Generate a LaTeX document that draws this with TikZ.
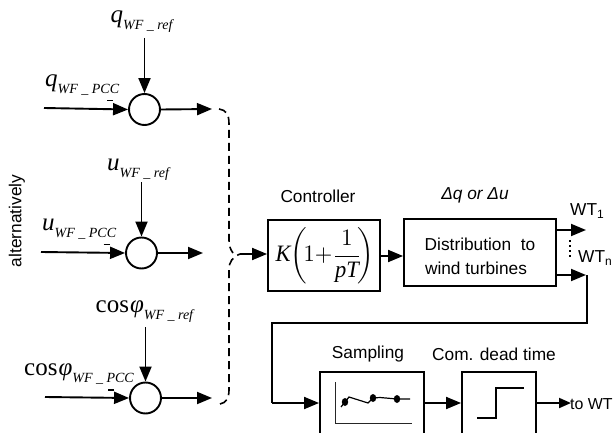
\documentclass[tikz,border=0pt]{standalone}
\usepackage{fontspec}
\setmainfont{Liberation Sans}
\newfontfamily\tnr{Liberation Serif}
\usetikzlibrary{arrows.meta}
\newcommand{\lbl}[2]{{\tnr\fontsize{25}{25}\selectfont #1}\raisebox{-7pt}{\tnr\itshape\fontsize{14}{14}\selectfont #2}}
\tikzset{
  x=1pt,y=-1pt,
  line/.style={line width=1.9pt,black},
  arr/.style={line,-{Triangle[length=15pt,width=12pt]}},
  sum/.style={circle,draw,line width=1.9pt,minimum size=31pt,inner sep=0pt},
  blockbox/.style={rectangle,draw,line width=1.9pt,inner sep=0pt},
  dashline/.style={line width=1.6pt,dash pattern=on 8pt off 5pt},
  lab/.style={font=\fontsize{17.3}{20}\selectfont,inner sep=0pt,align=center},
  sym/.style={inner sep=0pt,anchor=base west},
  minus/.style={line width=1.9pt},
  thin1/.style={line width=1pt,black!85}
}
\begin{document}
\begin{tikzpicture}
\useasboundingbox (0,0) rectangle (613,433);
\clip (0,0) rectangle (613,433);
% summing nodes
\node[sum] (s1) at (144.5,109.5) {};
\node[sum] (s2) at (141.5,253) {};
\node[sum] (s3) at (145.5,398) {};
% blocks
\node[blockbox,minimum width=112pt,minimum height=71pt] (ctrl) at (324,255.5) {};
\node[blockbox,minimum width=152pt,minimum height=67pt] (dist) at (480,252.5) {};
\node[blockbox,minimum width=104pt,minimum height=100pt] (samp) at (372,422) {};
\node[blockbox,minimum width=74pt,minimum height=100pt] (com) at (499,422) {};
% symbols
\node[sym] (tq1) at (110.5,23) {\lbl{\textit{q}}{WF \_ ref}};
\node[sym] (tq2) at (45,87) {\lbl{\textit{q}}{WF \_ PCC}};
\node[sym] (tu1) at (107,170) {\lbl{\textit{u}}{WF \_ ref}};
\node[sym] (tu2) at (42,230) {\lbl{\textit{u}}{WF \_ PCC}};
\node[sym] (tc1) at (95.5,312) {\lbl{cos\kern1pt\textit{φ}}{WF \_ ref}};
\node[sym] (tc2) at (24,375) {\lbl{cos\kern1pt\textit{φ}}{WF \_ PCC}};
% free ends
\coordinate (q1a) at (144.5,38);
\coordinate (q2a) at (44,108);
\coordinate (q3a) at (212,109);
\coordinate (u1a) at (141.5,182);
\coordinate (u2a) at (41,252);
\coordinate (u3a) at (203,253);
\coordinate (c1a) at (145.5,327);
\coordinate (c2a) at (45,397);
\coordinate (c3a) at (212,398);
\draw[arr] (q1a) -- (s1.north);
\draw[arr] (q2a) -- (s1.west);
\draw[arr] (s1.east) -- (q3a);
\draw[arr] (u1a) -- (s2.north);
\draw[arr] (u2a) -- (s2.west);
\draw[arr] (s2.east) -- (u3a);
\draw[arr] (c1a) -- (s3.north);
\draw[arr] (c2a) -- (s3.west);
\draw[arr] (s3.east) -- (c3a);
\draw[minus] (107,100.5) -- (113,100.5);
\draw[minus] (103.5,244.5) -- (110,244.5);
\draw[minus] (108,390) -- (114,390);
% dashed switch
\coordinate (sw) at (240,254);
\draw[dashline] (219,109) .. controls (226,110) and (229,114) .. (229,124) -- (229,240) .. controls (229,245) and (230,249) .. (233,253);
\draw[dashline] (220,404) .. controls (226,403) and (229,398) .. (229,390) -- (229,270) .. controls (229,261) and (233,257) .. (sw);
\draw[arr] (sw) -- (ctrl.west |- sw);
\draw[arr] (ctrl.east |- 0,256) -- (dist.west |- 0,256);
% outputs
\coordinate (wt1) at (586,230);
\coordinate (wtn) at (586,275);
\coordinate (bend) at (587,275);
\coordinate (cor1) at (587,323);
\coordinate (cor2) at (272,323);
\coordinate (cor3) at (272,403);
\draw[arr] (dist.east |- wt1) -- (wt1);
\draw[arr] (dist.east |- wtn) -- (wtn);
\draw[line] (bend) -- (cor1) -- (cor2) -- (cor3);
\draw[arr] (cor3) -- (samp.west |- cor3);
\draw[arr] (samp.east |- cor3) -- (com.west |- cor3);
\coordinate (toend) at (571,403);
\draw[line,-{Triangle[length=12pt,width=10pt]}] (com.east |- cor3) -- (toend);
\draw[line width=1.5pt,dash pattern=on 1.6pt off 3.4pt] (570,240) -- (570,258);
% labels
\node[lab] (t1) at (318,196) {Controller};
\node[lab] (t2) at (475,195) {\textit{Δq or Δu}};
\node[lab,anchor=base west] (t3) at (570,215) {WT\raisebox{-3pt}{\fontsize{12}{12}\selectfont 1}};
\node[lab,anchor=base west] (t4) at (578,262) {WT\raisebox{-3pt}{\fontsize{12}{12}\selectfont n}};
\node[lab] (t5) at (480,244) {Distribution\ \ to};
\node[lab] (t6) at (476,268) {wind turbines};
\node[lab] (t7) at (368,354) {Sampling};
\node[lab] (t8) at (494,354) {Com. dead time};
\node[lab,anchor=base west,font=\fontsize{15.9}{18}\selectfont] (t9) at (570,409) {to WT};
\node[lab,rotate=90] (t10) at (17,221) {alternatively};
\node[inner sep=0pt,xscale=2.25,yscale=2.35] (form) at (325,256) {$\displaystyle\mbox{\tnr\itshape K}\!\left(\!1{+}\frac{1}{\mbox{\tnr\itshape pT}}\!\right)$};
% sampling graph
\draw[thin1] (335,382) -- (335,423) -- (412,423);
\draw[line width=1.2pt] (341,407) -- (349,397) -- (368,403) -- (373,398) -- (380,397.5) -- (397,399) -- (410,399);
\fill (345,402) ellipse (3.2 and 4);
\fill (373,398) ellipse (3.2 and 4);
\fill (397,399) ellipse (3.2 and 4);
% step
\draw[line width=1.4pt] (477,418) -- (496,418) -- (496,388) -- (524,388);
\end{tikzpicture}
\end{document}
